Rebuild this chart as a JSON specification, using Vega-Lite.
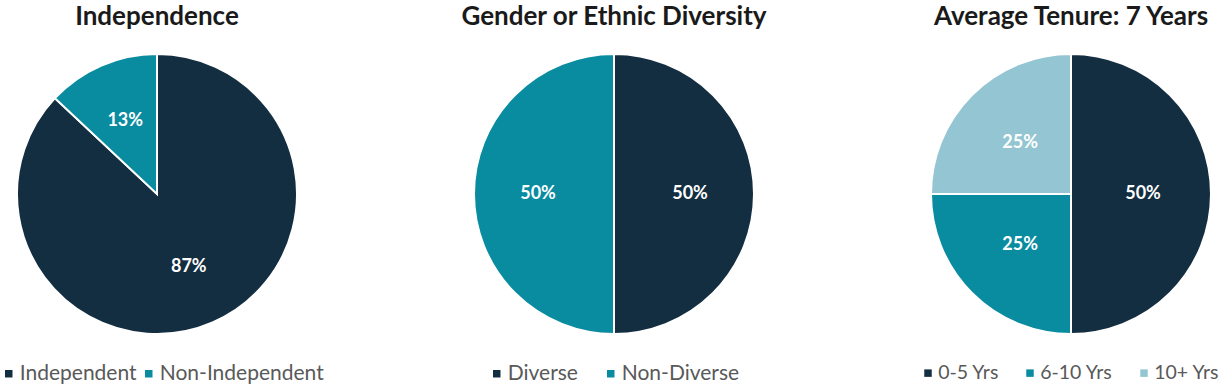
{
  "$schema": "https://vega.github.io/schema/vega-lite/v6.json",
  "background": "white",
  "padding": {"left": 3, "top": 4, "right": 0, "bottom": 0},
  "datasets": {
    "independence": [
      {"category": "Independent", "value": 87, "label": "87%", "order": 1},
      {"category": "Non-Independent", "value": 13, "label": "13%", "order": 2}
    ],
    "diversity": [
      {"category": "Diverse", "value": 50, "label": "50%", "order": 1},
      {"category": "Non-Diverse", "value": 50, "label": "50%", "order": 2}
    ],
    "tenure": [
      {"category": "0-5 Yrs", "value": 50, "label": "50%", "order": 1},
      {"category": "6-10 Yrs", "value": 25, "label": "25%", "order": 2},
      {"category": "10+ Yrs", "value": 25, "label": "25%", "order": 3}
    ]
  },
  "hconcat": [
    {
      "title": "Independence",
      "width": 280, "height": 280,
      "data": {"name": "independence"},
      "encoding": {
        "theta": {"field": "value", "type": "quantitative", "stack": true},
        "order": {"field": "order", "type": "quantitative"}
      },
      "layer": [
        {
          "mark": {"type": "arc", "outerRadius": 140, "stroke": "white", "strokeWidth": 2},
          "encoding": {
            "color": {"field": "category", "type": "nominal", "sort": ["Independent", "Non-Independent"],
              "scale": {"domain": ["Independent", "Non-Independent"], "range": ["#132D41", "#098BA0"]},
              "legend": {"legendX": -13.75, "legendY": 309, "columnPadding": 6, "symbolSize": 56, "symbolStrokeWidth": 0, "symbolStrokeColor": "transparent"}}
          }
        },
        {
          "mark": {"type": "text", "radius": 80, "fontSize": 18, "fontWeight": "bold", "font": "Lato"},
          "encoding": {
            "detail": {"field": "category"},
            "text": {"field": "label"},
            "color": {"value": "white"}
          }
        }
      ]
    },
    {
      "title": "Gender or Ethnic Diversity",
      "width": 280, "height": 280,
      "data": {"name": "diversity"},
      "encoding": {
        "theta": {"field": "value", "type": "quantitative", "stack": true},
        "order": {"field": "order", "type": "quantitative"}
      },
      "layer": [
        {
          "mark": {"type": "arc", "outerRadius": 140, "stroke": "white", "strokeWidth": 2},
          "encoding": {
            "color": {"field": "category", "type": "nominal", "sort": ["Diverse", "Non-Diverse"],
              "scale": {"domain": ["Diverse", "Non-Diverse"], "range": ["#132D41", "#098BA0"]},
              "legend": {"legendX": 17.25, "legendY": 309, "columnPadding": 27, "symbolSize": 56, "symbolStrokeWidth": 0, "symbolStrokeColor": "transparent"}}
          }
        },
        {
          "mark": {"type": "text", "radius": 76, "fontSize": 18, "fontWeight": "bold", "font": "Lato"},
          "encoding": {
            "detail": {"field": "category"},
            "text": {"field": "label"},
            "color": {"value": "white"}
          }
        }
      ]
    },
    {
      "title": "Average Tenure: 7 Years",
      "width": 280, "height": 280,
      "data": {"name": "tenure"},
      "encoding": {
        "theta": {"field": "value", "type": "quantitative", "stack": true},
        "order": {"field": "order", "type": "quantitative"}
      },
      "layer": [
        {
          "mark": {"type": "arc", "outerRadius": 140, "stroke": "white", "strokeWidth": 2},
          "encoding": {
            "color": {"field": "category", "type": "nominal", "sort": ["0-5 Yrs", "6-10 Yrs", "10+ Yrs"],
              "scale": {"domain": ["0-5 Yrs", "6-10 Yrs", "10+ Yrs"], "range": ["#132D41", "#098BA0", "#93C5D2"]},
              "legend": {"legendX": -7.75, "legendY": 309, "columnPadding": 26, "labelFontSize": 19.5, "symbolSize": 56, "symbolStrokeWidth": 0, "symbolStrokeColor": "transparent"}}
          }
        },
        {
          "mark": {"type": "text", "radius": 72, "fontSize": 18, "fontWeight": "bold", "font": "Lato"},
          "encoding": {
            "detail": {"field": "category"},
            "text": {"field": "label"},
            "color": {"value": "white"}
          }
        }
      ]
    }
  ],
  "spacing": 177,
  "bounds": "flush",
  "resolve": {"scale": {"color": "independent"}, "legend": {"color": "independent"}},
  "config": {
    "view": {"stroke": null},
    "font": "Lato",
    "title": {"fontSize": 26, "fontWeight": "bold", "color": "#1a1a1a", "font": "Lato", "anchor": "middle", "offset": 20},
    "legend": {
      "orient": "none", "direction": "horizontal", "title": null,
      "labelFontSize": 21, "labelColor": "#595959", "labelFont": "Lato", "labelLimit": 0,
      "symbolType": "square", "symbolSize": 56, "symbolStrokeWidth": 0,
      "symbolOffset": -5, "labelOffset": 0.5
    }
  }
}
